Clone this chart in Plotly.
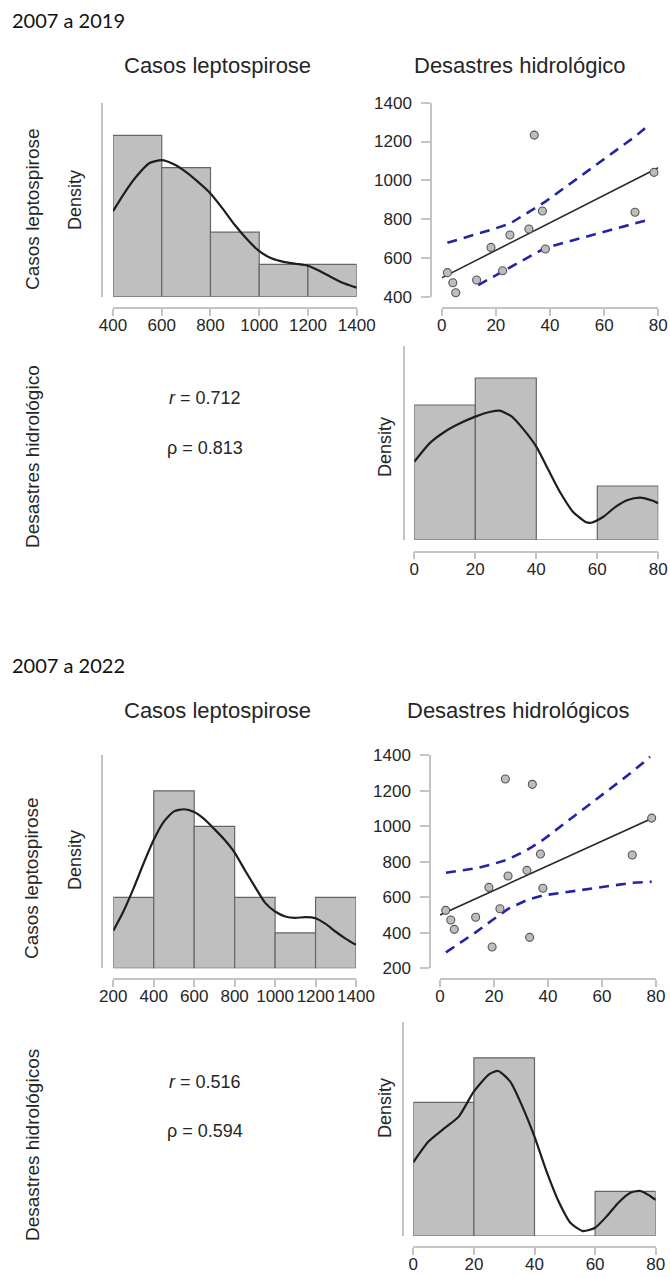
import plotly.graph_objects as go

W, H = 670, 1277

# ================= DATA: 2007 a 2019 =================
casos_19 = [524, 472, 420, 486, 654, 534, 718, 749, 1233, 842, 646, 835, 1041]
desastres_19 = [2.1, 4.1, 5.2, 12.9, 18.2, 22.5, 25.2, 32.2, 34.2, 37.2, 38.3, 71.4, 78.4]

casos_bins_19 = [400, 600, 800, 1000, 1200, 1400]
casos_counts_19 = [5, 4, 2, 1, 1]
des_bins_19 = [0, 20, 40, 60, 80]
des_counts_19 = [5, 6, 0, 2]

dens_casos_19_x = [400, 450, 500, 550, 600, 650, 700, 750, 800, 850, 900, 950, 1000,
                   1050, 1100, 1150, 1200, 1250, 1300, 1350, 1400]
dens_casos_19_y = [2.65, 3.25, 3.76, 4.14, 4.23, 4.10, 3.86, 3.55, 3.20, 2.73, 2.22, 1.78,
                   1.41, 1.19, 1.08, 1.02, 0.96, 0.79, 0.59, 0.41, 0.28]
dens_des_19_x = [0, 5, 10, 15, 20, 25, 28, 32, 36, 40, 44, 48, 52, 56, 58, 62, 66, 70, 74, 78, 80]
dens_des_19_y = [2.90, 3.58, 4.01, 4.32, 4.57, 4.75, 4.79, 4.57, 4.07, 3.46, 2.59, 1.73,
                 1.05, 0.68, 0.64, 0.86, 1.23, 1.48, 1.57, 1.46, 1.36]

reg_x_19 = [0, 80]
reg_y_19 = [497, 1065]
ci_up_x_19 = [2.1, 13, 18, 25, 32, 35, 38.3, 71.4, 75.7]
ci_up_y_19 = [678, 722, 744, 775, 836, 864, 890, 1225, 1276]
ci_lo_x_19 = [13.5, 18.2, 22.5, 25.2, 32.2, 34.2, 37.2, 38.3, 71.4, 75.7]
ci_lo_y_19 = [460, 496, 532, 553, 606, 621, 644, 652, 778, 794]

r_txt_19 = "<i>r</i> = 0.712"
rho_txt_19 = "ρ = 0.813"

# ================= DATA: 2007 a 2022 =================
casos_22 = [526, 472, 419, 487, 655, 320, 535, 1265, 719, 751, 374, 1235, 843, 650, 837, 1045]
desastres_22 = [2.1, 4.0, 5.3, 13.2, 18.1, 19.3, 22.2, 24.2, 25.2, 32.2, 33.2, 34.2, 37.2,
                38.1, 71.2, 78.4]

casos_bins_22 = [200, 400, 600, 800, 1000, 1200, 1400]
casos_counts_22 = [2, 5, 4, 2, 1, 2]
des_bins_22 = [0, 20, 40, 60, 80]
des_counts_22 = [6, 8, 0, 2]

dens_casos_22_x = [200, 250, 300, 350, 400, 450, 500, 550, 600, 650, 700, 750, 800, 850,
                   900, 950, 1000, 1050, 1100, 1150, 1200, 1250, 1300, 1350, 1400]
dens_casos_22_y = [1.06, 1.60, 2.25, 2.96, 3.62, 4.13, 4.42, 4.48, 4.40, 4.20, 3.92, 3.62,
                   3.26, 2.77, 2.30, 1.85, 1.60, 1.46, 1.42, 1.44, 1.41, 1.25, 1.03, 0.83, 0.66]
dens_des_22_x = [0, 5, 10, 15, 20, 25, 28, 32, 36, 40, 44, 48, 52, 56, 60, 64, 68, 72, 75, 78, 80]
dens_des_22_y = [3.31, 4.24, 4.81, 5.36, 6.49, 7.26, 7.41, 6.93, 5.81, 4.46, 2.89, 1.54,
                 0.57, 0.22, 0.37, 0.91, 1.54, 1.96, 2.02, 1.81, 1.62]

reg_x_22 = [0, 80]
reg_y_22 = [500, 1054]
ci_up_x_22 = [2.2, 13.2, 19.3, 25.2, 32.2, 38.1, 71.2, 77.8]
ci_up_y_22 = [738, 762, 785, 813, 865, 922, 1305, 1390]
ci_lo_x_22 = [2.2, 13.2, 19.3, 25.2, 32.2, 38.1, 71.2, 78.4]
ci_lo_y_22 = [290, 402, 470, 534, 584, 610, 681, 687]

r_txt_22 = "<i>r</i> = 0.516"
rho_txt_22 = "ρ = 0.594"

# ---- tick definitions ----
casos_ticks_19 = [400, 600, 800, 1000, 1200, 1400]
casos_ticks_22 = [200, 400, 600, 800, 1000, 1200, 1400]
des_ticks = [0, 20, 40, 60, 80]
sc_yticks_19 = [400, 600, 800, 1000, 1200, 1400]
sc_yticks_22 = [200, 400, 600, 800, 1000, 1200, 1400]

# ================= STYLE / LAYOUT =================
FONT = "Liberation Sans, Arial, sans-serif"
AXC = "#c4c4c4"
TXT = "#262626"
BAR_FILL = "#bfbfbf"
BAR_LINE = "#666666"
BLUE = "#2323a8"


def fx(px):
    return px / W


def fy(py):
    return 1 - py / H


fig = go.Figure()
layout = dict(width=W, height=H, autosize=False, margin=dict(l=0, r=0, t=0, b=0, pad=0, autoexpand=False),
              paper_bgcolor="white", plot_bgcolor="white", showlegend=False,
              annotations=[])
tickfont = dict(family=FONT, size=17, color=TXT)
n_ax = [0]


def new_axes(x0, x1, xr, ybot, ytop, yr, xline, yline, xt, yt=None):
    n_ax[0] += 1
    n = n_ax[0]
    sfx = "" if n == 1 else str(n)
    layout["xaxis" + sfx] = dict(
        domain=[fx(x0), fx(x1)], range=xr, anchor="free", position=fy(xline), automargin=False,
        showline=True, linecolor=AXC, linewidth=1.5, ticks="outside", ticklen=7,
        tickwidth=1.5, tickcolor=AXC, tickvals=xt, ticktext=[str(v) for v in xt],
        ticklabelstandoff=-5,
        tickangle=0, tickfont=tickfont, showgrid=False, zeroline=False)
    ydict = dict(domain=[fy(ybot), fy(ytop)], range=yr, anchor="free", position=fx(yline),
                 automargin=False, showline=True, linecolor=AXC, linewidth=1.5,
                 showgrid=False, zeroline=False)
    if yt is None:
        ydict.update(ticks="", showticklabels=False)
    else:
        ydict.update(ticks="outside", ticklen=9, tickwidth=1.5, tickcolor=AXC,
                     ticklabelstandoff=6,
                     tickvals=yt, ticktext=[str(v) for v in yt], tickfont=tickfont)
    layout["yaxis" + sfx] = ydict
    return "x" + sfx, "y" + sfx


def hist(bins, counts, dx, dy, xa, ya):
    centers = [(bins[i] + bins[i + 1]) / 2 for i in range(len(counts))]
    widths = [bins[i + 1] - bins[i] for i in range(len(counts))]
    fig.add_trace(go.Bar(x=centers, y=counts, width=widths, xaxis=xa, yaxis=ya,
                         marker=dict(color=BAR_FILL, line=dict(color=BAR_LINE, width=1.2)),
                         hoverinfo="skip"))
    fig.add_trace(go.Scatter(x=dx, y=dy, mode="lines", xaxis=xa, yaxis=ya,
                             line=dict(color="#1e1e1e", width=2.2, shape="spline", smoothing=0.6),
                             cliponaxis=False, hoverinfo="skip"))


def scatter(xs, ys, rx, ry, ux, uy, lx, ly, xa, ya):
    fig.add_trace(go.Scatter(x=ux, y=uy, mode="lines", xaxis=xa, yaxis=ya,
                             line=dict(color=BLUE, width=2.6, dash="10px,7px"), hoverinfo="skip"))
    fig.add_trace(go.Scatter(x=lx, y=ly, mode="lines", xaxis=xa, yaxis=ya,
                             line=dict(color=BLUE, width=2.6, dash="10px,7px"), hoverinfo="skip"))
    fig.add_trace(go.Scatter(x=rx, y=ry, mode="lines", xaxis=xa, yaxis=ya,
                             line=dict(color="#2a2a2a", width=1.6), hoverinfo="skip"))
    fig.add_trace(go.Scatter(x=xs, y=ys, mode="markers", xaxis=xa, yaxis=ya, cliponaxis=False,
                             marker=dict(size=8, color="#bdbdbd", line=dict(color="#555555", width=1.1)),
                             hoverinfo="skip"))


def text(s, x, y, size, angle=0, anchor="center", family=FONT, color=TXT):
    layout["annotations"].append(dict(
        text=s, x=fx(x), y=fy(y), xref="paper", yref="paper", showarrow=False,
        xanchor=anchor, yanchor="middle", textangle=angle,
        font=dict(family=family, size=size, color=color)))


# ---------- panel 2019 ----------
ytop_c19 = 1.2 * max(casos_counts_19)
xa, ya = new_axes(113, 356.7, [casos_bins_19[0], casos_bins_19[-1]], 296.7, 103, [0, ytop_c19],
                  308.3, 101.7, casos_ticks_19)
hist(casos_bins_19, casos_counts_19, dens_casos_19_x, dens_casos_19_y, xa, ya)
xa, ya = new_axes(441.7, 658.3, [0, 80], 296.7, 102.7, [400, 1400], 308.3, 431, des_ticks, sc_yticks_19)
scatter(desastres_19, casos_19, reg_x_19, reg_y_19, ci_up_x_19, ci_up_y_19, ci_lo_x_19, ci_lo_y_19, xa, ya)
ytop_d19 = 1.2 * max(des_counts_19)
xa, ya = new_axes(414.3, 658.3, [0, 80], 540, 540 - ytop_d19 * 27.0, [0, ytop_d19],
                  551.5, 404, des_ticks)
hist(des_bins_19, des_counts_19, dens_des_19_x, dens_des_19_y, xa, ya)

# ---------- panel 2022 ----------
ytop_c22 = 1.2 * max(casos_counts_22)
xa, ya = new_axes(113.3, 356, [casos_bins_22[0], casos_bins_22[-1]], 968.3, 968.3 - ytop_c22 * 35.5,
                  [0, ytop_c22], 979.3, 101.7, casos_ticks_22)
hist(casos_bins_22, casos_counts_22, dens_casos_22_x, dens_casos_22_y, xa, ya)
xa, ya = new_axes(440, 656, [0, 80], 968.3, 755, [200, 1400], 978.8, 430, des_ticks, sc_yticks_22)
scatter(desastres_22, casos_22, reg_x_22, reg_y_22, ci_up_x_22, ci_up_y_22, ci_lo_x_22, ci_lo_y_22, xa, ya)
ytop_d22 = 1.2 * max(des_counts_22)
xa, ya = new_axes(413.3, 655.7, [0, 80], 1236, 1236 - ytop_d22 * 22.27, [0, ytop_d22],
                  1247, 403.3, des_ticks)
hist(des_bins_22, des_counts_22, dens_des_22_x, dens_des_22_y, xa, ya)

# ---------- texts ----------
HDR = "Lato, Open Sans, sans-serif"
text("2007 a 2019", 10, 20, 20, anchor="left", family=HDR, color="#111111")
text("Casos leptospirose", 218, 65, 22)
text("Desastres hidrológico", 520, 65, 22)
text("Casos leptospirose", 32, 209, 19, angle=-90)
text("Density", 75, 200, 18, angle=-90)
text("Desastres hidrológico", 32, 457, 19, angle=-90)
text(r_txt_19, 205, 398, 18)
text(rho_txt_19, 205, 448, 18)
text("Density", 385, 447, 18, angle=-90)

text("2007 a 2022", 10, 665, 20, anchor="left", family=HDR, color="#111111")
text("Casos leptospirose", 218, 710, 22)
text("Desastres hidrológicos", 518, 710, 22)
text("Casos leptospirose", 31, 878, 19, angle=-90)
text("Density", 75, 860, 18, angle=-90)
text("Desastres hidrológicos", 32, 1145, 19, angle=-90)
text(r_txt_22, 205, 1082, 18)
text(rho_txt_22, 205, 1131, 18)
text("Density", 385, 1108, 18, angle=-90)

fig.update_layout(**layout)
fig.write_html("out.html", config={"responsive": False, "displayModeBar": False},
               post_script="document.body.style.margin='0';document.body.style.overflow='hidden';")
